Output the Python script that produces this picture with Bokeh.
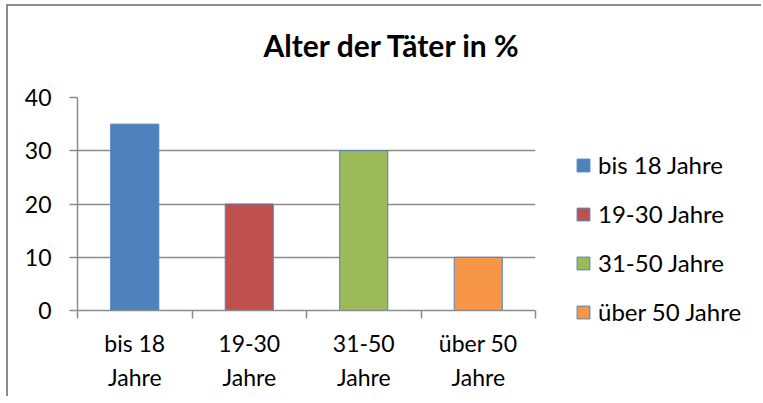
from bokeh.plotting import figure
from bokeh.models import (Range1d, FixedTicker, Legend, LegendItem, Title)
from bokeh.embed import file_html
from bokeh.resources import INLINE

# ---- data ----
categories = ["bis 18 Jahre", "19-30 Jahre", "31-50 Jahre", "über 50 Jahre"]
tick_labels = ["bis 18\nJahre", "19-30\nJahre", "31-50\nJahre", "über 50\nJahre"]
values = [35, 20, 30, 10]
colors = ["#4F81BD", "#C0504D", "#9BBB59", "#F79646"]
y_ticks = [0, 10, 20, 30, 40]
title_text = "Alter der Täter in %"

FONT = "Lato"
GRID = "#8C8C8C"

p = figure(frame_width=458, frame_height=213, output_backend="svg",
           toolbar_location=None,
           x_range=Range1d(0, len(categories)), y_range=Range1d(0, 40),
           min_border_left=69, min_border_right=228, min_border_top=91,
           min_border_bottom=88)
p.styles = {"border-top": "2px solid #8C8C8C", "border-left": "2px solid #8C8C8C",
            "margin-left": "6px", "margin-top": "4px",
            "width": "755px", "height": "392px", "overflow": "hidden",
            "scrollbar-width": "none"}
p.outline_line_color = None
p.background_fill_color = "white"
p.border_fill_color = "white"

xs = [i + 0.5 for i in range(len(categories))]
items = []
for i, (c, v, col) in enumerate(zip(categories, values, colors)):
    r = p.vbar(x=[xs[i]], top=[v], width=0.42, bottom=0,
               fill_color=col, line_color="#4F81BD", line_width=1)
    items.append(LegendItem(label=c, renderers=[r]))

# x axis: labels at category centres, ticks at boundaries
xa = p.xaxis[0]
xa.ticker = FixedTicker(ticks=xs, minor_ticks=list(range(len(categories) + 1)))
xa.major_label_overrides = {x: t for x, t in zip(xs, tick_labels)}
xa.major_tick_out = 0
xa.major_tick_in = 0
xa.minor_tick_out = 8
xa.minor_tick_in = 0
xa.minor_tick_line_color = GRID
xa.minor_tick_line_width = 1.5
xa.axis_line_color = GRID
xa.axis_line_width = 1.5
xa.major_label_text_font = FONT
xa.major_label_text_font_size = "23px"
xa.major_label_text_color = "black"
xa.major_label_text_line_height = 1.22
xa.major_label_standoff = 10

ya = p.yaxis[0]
ya.ticker = FixedTicker(ticks=y_ticks)
ya.major_tick_out = 8
ya.major_tick_in = 0
ya.minor_tick_out = 0
ya.minor_tick_in = 0
ya.major_tick_line_color = GRID
ya.major_tick_line_width = 1.5
ya.axis_line_color = GRID
ya.axis_line_width = 1.5
ya.major_label_text_font = FONT
ya.major_label_text_font_size = "23px"
ya.major_label_text_color = "black"
ya.major_label_standoff = 18

p.xgrid.grid_line_color = None
p.ygrid.ticker = FixedTicker(ticks=y_ticks)
p.ygrid.grid_line_color = GRID
p.ygrid.grid_line_width = 1.5

# empty spacer between frame and title
spacer = Title(text=" ", text_font_size="1px", standoff=10)
p.add_layout(spacer, "above")

t = Title(text=title_text, align="left", offset=186, standoff=40,
          vertical_align="top",
          text_font=FONT, text_font_size="30px", text_font_style="bold",
          text_color="black")
p.add_layout(t, "above")

legend = Legend(items=items, location=(40, -16), orientation="vertical",
                glyph_width=16, glyph_height=16, label_standoff=7, spacing=20,
                padding=10, margin=0, border_line_color=None,
                background_fill_alpha=0,
                label_text_font=FONT, label_text_font_size="24px",
                label_text_color="black")
p.add_layout(legend, "right")

html = file_html(p, INLINE)
css = ("<style>html,body{overflow:hidden}*{scrollbar-width:none}"
       "::-webkit-scrollbar{display:none;width:0;height:0}</style>")
html = html.replace("</head>", css + "</head>", 1)
open("out.html", "w").write(html)
